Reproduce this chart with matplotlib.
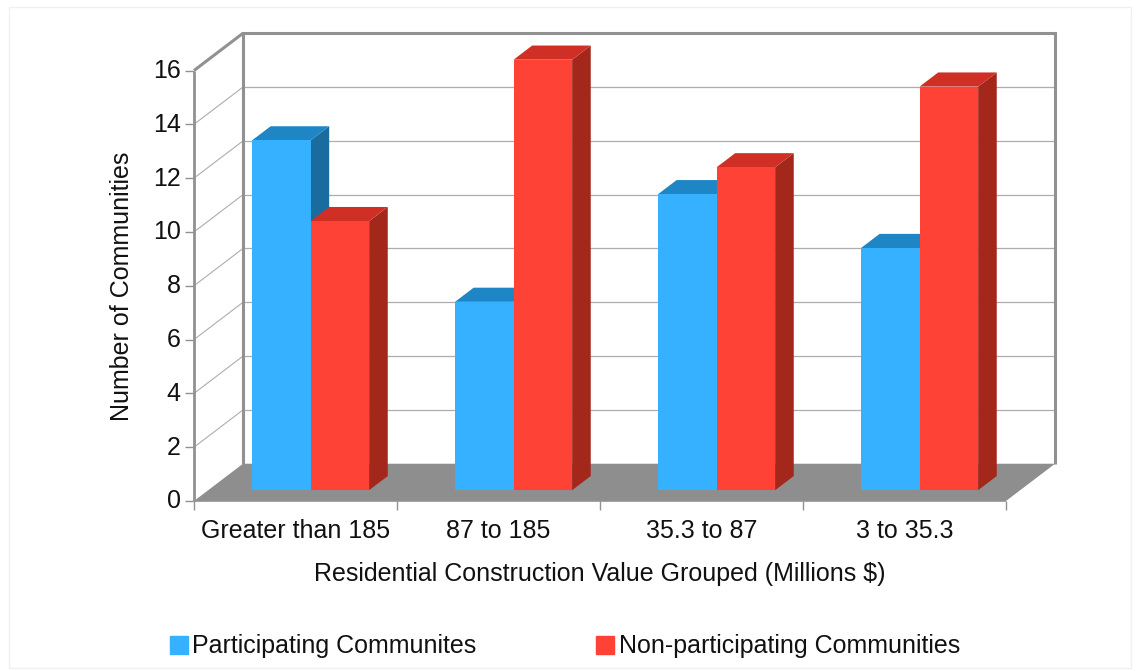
import matplotlib
matplotlib.use("Agg")
import matplotlib.pyplot as plt
from matplotlib.patches import Polygon, Patch, Rectangle
from matplotlib.transforms import ScaledTranslation

plt.rcParams['font.family'] = ['Liberation Sans', 'DejaVu Sans']

categories = ["Greater than 185", "87 to 185", "35.3 to 87", "3 to 35.3"]
participating = [13, 7, 11, 9]
non_participating = [10, 16, 12, 15]
y_ticks = [0, 2, 4, 6, 8, 10, 12, 14, 16]
series_names = ["Participating Communites", "Non-participating Communities"]
x_title = "Residential Construction Value Grouped (Millions $)"
y_title = "Number of Communities"

W, H = 1140, 671
FONT = 18
INK = "#111111"
fig = plt.figure(figsize=(W / 100, H / 100), dpi=100, facecolor="white")

# front plane of the oblique box, in figure pixels
left, right, bottom, top = 194, 1006, 501, 70.5
ax = fig.add_axes([left / W, 1 - bottom / H, (right - left) / W, (bottom - top) / H])
ax.set_xlim(0, len(categories))
ax.set_ylim(0, 16)
ax.patch.set_visible(False)
for s in ax.spines.values():
    s.set_visible(False)

# depth vector of the box expressed in data units
DX, DY = 0.2414, 1.385
WALL = "#919191"
GRID = "#adadad"


def shift(x, y, d):
    return x + DX * d, y + DY * d


def face(points, color, z):
    ax.add_patch(Polygon(points, closed=True, facecolor=color, edgecolor="none",
                         linewidth=0, zorder=z, clip_on=False))


def line(xs, ys, lw, color=WALL, z=2):
    ax.plot(xs, ys, color=color, lw=lw, zorder=z, clip_on=False,
            solid_capstyle="butt", solid_joinstyle="miter")


n = len(categories)
# floor
face([(0, 0), (n, 0), shift(n, 0, 1), shift(0, 0, 1)], "#8e8e8e", 1)

# gridlines on the side and back walls
for v in y_ticks[1:-1]:
    bx, by = shift(0, v, 1)
    line([0, bx], [v, by], 0.8, GRID)
    line([bx, shift(n, v, 1)[0]], [by, by], 0.9, GRID)

# frame of the walls
bl = shift(0, 0, 1)
tl = shift(0, 16, 1)
br = shift(n, 0, 1)
tr = shift(n, 16, 1)
line([0, 0], [0, 16], 2.0)
line([0, tl[0]], [16, tl[1]], 2.2)
line([bl[0], tl[0], tr[0], br[0]], [bl[1], tl[1], tr[1], br[1]], 2.2)
line([0, n], [0, 0], 1.2)

# bars sit inside the floor depth, side by side in each category
BAR_W = 0.2885
D_NEAR, D_FAR = 0.29, 0.67


def bar3d(x0, value, front, roof, side, z):
    x1 = x0 + BAR_W
    a = shift(x0, 0, D_NEAR)
    b = shift(x1, 0, D_NEAR)
    c = shift(x1, value, D_NEAR)
    d = shift(x0, value, D_NEAR)
    far = lambda p: (p[0] + DX * (D_FAR - D_NEAR), p[1] + DY * (D_FAR - D_NEAR))
    face([b, far(b), far(c), c], side, z)
    face([d, c, far(c), far(d)], roof, z)
    face([a, b, c, d], front, z)


for i in range(n):
    base = i + 0.2857 - DX * D_NEAR
    bar3d(base, participating[i], "#35b1ff", "#1f86c6", "#1a6c9f", 5 + i)
    bar3d(base + BAR_W, non_participating[i], "#ff4235", "#d02f26", "#a3271b", 5.5 + i)

# axes ticks and labels
ax.set_yticks(y_ticks)
ax.set_xticks(range(n + 1))
ax.set_xticklabels([])
ax.set_xticks([i + 0.5 for i in range(n)], minor=True)
ax.set_xticklabels(categories, minor=True)
ax.tick_params(axis="both", which="major", color=WALL, width=1.0, length=6.5, labelsize=FONT,
               labelcolor=INK, pad=3)
ax.tick_params(axis="x", which="minor", length=0, labelsize=FONT, labelcolor=INK, pad=13)

# value labels sit slightly above their tick marks
lift = ScaledTranslation(0, 2 / 100, fig.dpi_scale_trans)
for label in ax.get_yticklabels():
    label.set_transform(label.get_transform() + lift)

fig.text(600 / W, 1 - 574 / H, x_title, ha="center", va="center", fontsize=FONT, color=INK)
fig.text(122 / W, 1 - 286 / H, y_title, ha="center", va="center", rotation=90,
         fontsize=FONT, color=INK)

# legend
handles = [Patch(color="#35b1ff"), Patch(color="#ff4235")]
fig.legend(handles, series_names, loc="center left", bbox_to_anchor=(162 / W, 1 - 646.5 / H), ncol=2,
           frameon=False, fontsize=FONT, handlelength=0.72, handleheight=0.72, handletextpad=0.2,
           columnspacing=4.76, labelcolor=INK, borderpad=0.3, borderaxespad=0)

# faint page edge around the figure
fig.add_artist(Rectangle((9 / W, 1 - 668 / H), 1122 / W, 661 / H, transform=fig.transFigure,
                         fill=False, edgecolor="#f0f0f0", linewidth=1.0))

fig.savefig("out.png", dpi=100)
